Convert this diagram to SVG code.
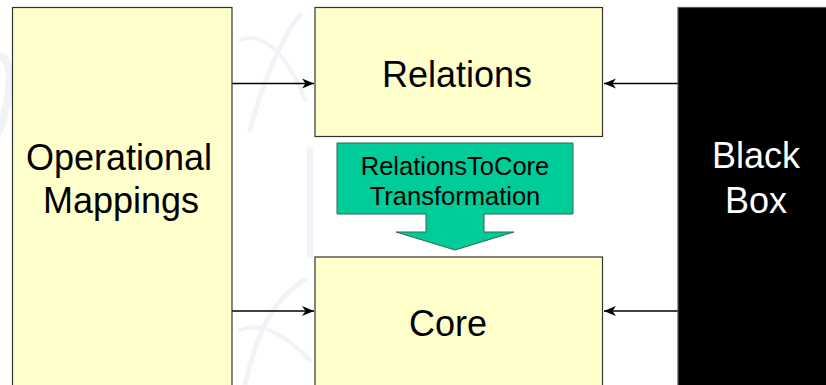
<svg xmlns="http://www.w3.org/2000/svg" width="826" height="385" viewBox="0 0 826 385">
  <style>
    .box { fill: #FFFFCC; stroke: #333333; stroke-width: 1.2; }
    .black { fill: #000000; stroke: #555555; stroke-width: 1.2; }
    .lbl { font-family: "Liberation Sans", Arial, sans-serif; font-size: 36px; fill: #000000; text-anchor: middle; }
    .lbl-w { fill: #FFFFFF; }
    .small { font-size: 25.5px; }
    .conn { stroke: #000000; stroke-width: 1.4; fill: none; marker-end: url(#head); }
    .wm { fill: none; stroke: #F1F3F8; stroke-linecap: round; }
  </style>
  <defs>
    <marker id="head" viewBox="0 0 13 12" refX="12" refY="6" markerWidth="13" markerHeight="12" markerUnits="userSpaceOnUse" orient="auto">
      <path d="M0,1 L12,6 L0,11 L3.5,6 Z" fill="#000000"/>
    </marker>
  </defs>

  <rect width="826" height="385" fill="#FFFFFF"/>

  <!-- faint background swirl -->
  <g id="backdrop">
    <path class="wm" stroke-width="8" d="M-10,60 C20,40 10,110 -5,140"/>
    <path class="wm" stroke-width="5" d="M250,130 C260,90 280,40 300,15"/>
    <path class="wm" stroke-width="4" d="M240,40 C265,30 290,60 305,100"/>
    <path class="wm" stroke-width="5" d="M245,385 C255,340 270,300 305,280"/>
    <path class="wm" stroke-width="4" d="M240,330 C265,320 290,340 310,360"/>
    <path class="wm" stroke-width="6" d="M310,150 L310,255"/>
  </g>

  <g id="connectors">
    <line class="conn" x1="232" y1="83.5" x2="314" y2="83.5"/>
    <line class="conn" x1="232" y1="311" x2="314" y2="311"/>
    <line class="conn" x1="678" y1="83.5" x2="604" y2="83.5"/>
    <line class="conn" x1="678" y1="311" x2="604" y2="311"/>
  </g>

  <g id="operational-mappings">
    <rect class="box" x="12.5" y="7.5" width="219.5" height="400"/>
    <text class="lbl" x="119" y="170">Operational</text>
    <text class="lbl" x="121" y="213">Mappings</text>
  </g>

  <g id="relations">
    <rect class="box" x="315" y="7.5" width="287.5" height="129"/>
    <text class="lbl" x="457" y="86.5">Relations</text>
  </g>

  <g id="core">
    <rect class="box" x="315" y="257" width="287.5" height="150"/>
    <text class="lbl" x="448" y="336">Core</text>
  </g>

  <g id="black-box">
    <rect class="black" x="678" y="7.5" width="160" height="400"/>
    <text class="lbl lbl-w" x="756" y="168">Black</text>
    <text class="lbl lbl-w" x="756" y="213">Box</text>
  </g>

  <g id="relations-to-core">
    <path d="M337,143 L573,143 L573,214 L484,214 L484,232 L514,232 L455,250 L396,232 L426,232 L426,214 L337,214 Z" fill="#00CC99" stroke="#336655" stroke-width="1"/>
    <text class="lbl small" x="455" y="175">RelationsToCore</text>
    <text class="lbl small" x="455" y="205">Transformation</text>
  </g>
</svg>
